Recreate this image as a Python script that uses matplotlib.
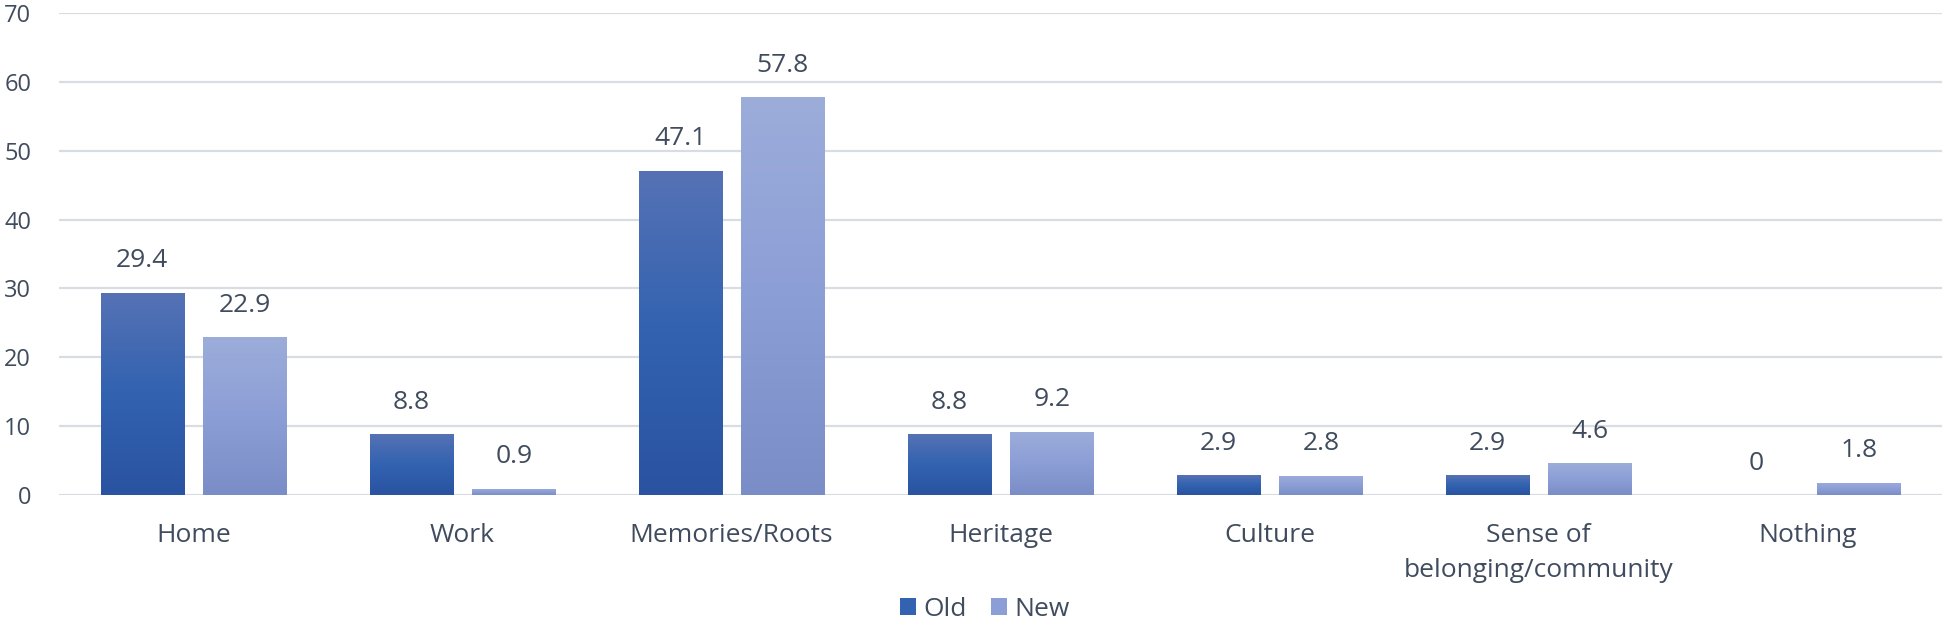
import matplotlib
matplotlib.use("Agg")
import matplotlib.pyplot as plt
import numpy as np
from matplotlib.colors import LinearSegmentedColormap
from matplotlib.patches import Patch

categories = ["Home", "Work", "Memories/Roots", "Heritage", "Culture",
              "Sense of\nbelonging/community", "Nothing"]
old_values = [29.4, 8.8, 47.1, 8.8, 2.9, 2.9, 0]
new_values = [22.9, 0.9, 57.8, 9.2, 2.8, 4.6, 1.8]
old_labels = ["29.4", "8.8", "47.1", "8.8", "2.9", "2.9", "0"]
new_labels = ["22.9", "0.9", "57.8", "9.2", "2.8", "4.6", "1.8"]
series_names = ["Old", "New"]
yticks = [0, 10, 20, 30, 40, 50, 60, 70]

plt.rcParams['font.family'] = ['Open Sans', 'DejaVu Sans']
text_color = "#404C5E"

fig = plt.figure(figsize=(19.47, 6.21), dpi=100)
ax = fig.add_axes([59/1947, 1-495/621, (1942-59)/1947, (495-13)/621])

x = np.arange(len(categories))
w = 0.309
off = 0.191

old_cmap = LinearSegmentedColormap.from_list("old", ["#2A53A1", "#3262B0", "#5672B5"])
new_cmap = LinearSegmentedColormap.from_list("new", ["#7A8DC6", "#8C9ED6", "#9CADDA"])

bars_old = ax.bar(x - off, old_values, w, color="#3262B0", zorder=2)
bars_new = ax.bar(x + off, new_values, w, color="#8C9ED6", zorder=2)

grad = np.linspace(0, 1, 256).reshape(-1, 1)
for bars, cmap in ((bars_old, old_cmap), (bars_new, new_cmap)):
    for b in bars:
        h = b.get_height()
        if h <= 0:
            continue
        x0 = b.get_x()
        im = ax.imshow(grad, cmap=cmap, origin="lower", aspect="auto",
                       extent=[x0, x0 + b.get_width(), 0, h], zorder=3)
        im.set_clip_path(b)

for bars, labels in ((bars_old, old_labels), (bars_new, new_labels)):
    for b, lab in zip(bars, labels):
        ax.annotate(lab, (b.get_x() + b.get_width()/2, b.get_height()),
                    xytext=(0, 23), textcoords="offset points",
                    ha="center", va="center", fontsize=19, color=text_color)

ax.set_xlim(-0.5, len(categories) - 0.5)
ax.set_ylim(0, 70)
ax.set_yticks(yticks)
ax.set_yticklabels([str(t) for t in yticks])
ax.set_xticks(x)
ax.set_xticklabels(categories, linespacing=1.55)
ax.tick_params(axis="y", length=0, pad=20, labelsize=17, labelcolor=text_color)
ax.tick_params(axis="x", length=0, pad=20, labelsize=19, labelcolor=text_color)
for lbl in ax.get_xticklabels():
    lbl.set_verticalalignment("top")
ax.grid(axis="y", color="#D9DCE3", linewidth=1.6, zorder=0)
ax.set_axisbelow(True)
for s in ax.spines.values():
    s.set_visible(False)

handles = [Patch(facecolor="#3262B0", label=series_names[0]),
           Patch(facecolor="#8C9ED6", label=series_names[1])]
fig.legend(handles=handles, loc="center", bbox_to_anchor=(985/1947, 1-609/621),
           ncol=2, frameon=False, fontsize=19, handlelength=0.6, handleheight=0.6,
           handletextpad=0.3, columnspacing=0.9, labelcolor=text_color,
           borderpad=0)

fig.savefig("out.png", dpi=100)
